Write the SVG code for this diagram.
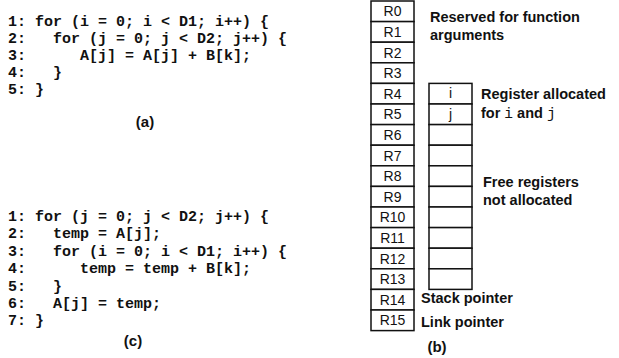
<svg xmlns="http://www.w3.org/2000/svg" width="619" height="358" viewBox="0 0 619 358">
<style>
.code{font-family:"Liberation Mono","Courier New",monospace;font-weight:bold;font-size:15px;fill:#111;white-space:pre}
.lbl{font-family:"Liberation Sans",Arial,sans-serif;font-weight:bold;font-size:14.5px;fill:#111}
.mono{font-family:"Liberation Mono","Courier New",monospace;font-weight:normal}
.reg{font-family:"Liberation Sans",Arial,sans-serif;font-size:14px;fill:#111;text-anchor:middle}
.box{fill:#fff;stroke:#111;stroke-width:1.5}
.cap{font-family:"Liberation Sans",Arial,sans-serif;font-weight:bold;font-size:15px;fill:#111;text-anchor:middle}
</style>
<rect width="619" height="358" fill="#fff"/>
<g id="code-a">
<text class="code" xml:space="preserve" x="8" y="26">1: for (i = 0; i &lt; D1; i++) {</text>
<text class="code" xml:space="preserve" x="8" y="43">2:   for (j = 0; j &lt; D2; j++) {</text>
<text class="code" xml:space="preserve" x="8" y="60">3:      A[j] = A[j] + B[k];</text>
<text class="code" xml:space="preserve" x="8" y="77">4:   }</text>
<text class="code" xml:space="preserve" x="8" y="94">5: }</text>
<text class="cap" x="145" y="127">(a)</text>
</g>
<g id="code-c">
<text class="code" xml:space="preserve" x="8" y="221">1: for (j = 0; j &lt; D2; j++) {</text>
<text class="code" xml:space="preserve" x="8" y="238">2:   temp = A[j];</text>
<text class="code" xml:space="preserve" x="8" y="256">3:   for (i = 0; i &lt; D1; i++) {</text>
<text class="code" xml:space="preserve" x="8" y="273">4:      temp = temp + B[k];</text>
<text class="code" xml:space="preserve" x="8" y="291">5:   }</text>
<text class="code" xml:space="preserve" x="8" y="308">6:   A[j] = temp;</text>
<text class="code" xml:space="preserve" x="8" y="325">7: }</text>
<text class="cap" x="133" y="346">(c)</text>
</g>
<g id="registers">
<rect class="box" x="371" y="1" width="43" height="20.6"/><text class="reg" x="392.5" y="16.3">R0</text>
<rect class="box" x="371" y="21.6" width="43" height="20.6"/><text class="reg" x="392.5" y="36.9">R1</text>
<rect class="box" x="371" y="42.2" width="43" height="20.6"/><text class="reg" x="392.5" y="57.5">R2</text>
<rect class="box" x="371" y="62.8" width="43" height="20.6"/><text class="reg" x="392.5" y="78.1">R3</text>
<rect class="box" x="371" y="83.4" width="43" height="20.6"/><text class="reg" x="392.5" y="98.7">R4</text>
<rect class="box" x="371" y="104" width="43" height="20.6"/><text class="reg" x="392.5" y="119.3">R5</text>
<rect class="box" x="371" y="124.6" width="43" height="20.6"/><text class="reg" x="392.5" y="139.9">R6</text>
<rect class="box" x="371" y="145.2" width="43" height="20.6"/><text class="reg" x="392.5" y="160.5">R7</text>
<rect class="box" x="371" y="165.8" width="43" height="20.6"/><text class="reg" x="392.5" y="181.1">R8</text>
<rect class="box" x="371" y="186.4" width="43" height="20.6"/><text class="reg" x="392.5" y="201.7">R9</text>
<rect class="box" x="371" y="207" width="43" height="20.6"/><text class="reg" x="392.5" y="222.3">R10</text>
<rect class="box" x="371" y="227.6" width="43" height="20.6"/><text class="reg" x="392.5" y="242.9">R11</text>
<rect class="box" x="371" y="248.2" width="43" height="20.6"/><text class="reg" x="392.5" y="263.5">R12</text>
<rect class="box" x="371" y="268.8" width="43" height="20.6"/><text class="reg" x="392.5" y="284.1">R13</text>
<rect class="box" x="371" y="289.4" width="43" height="20.6"/><text class="reg" x="392.5" y="304.7">R14</text>
<rect class="box" x="371" y="310" width="43" height="20.6"/><text class="reg" x="392.5" y="325.3">R15</text>
</g>
<g id="allocation">
<rect class="box" x="429" y="83.4" width="43" height="20.6"/><text class="reg" x="450.5" y="98">i</text>
<rect class="box" x="429" y="104" width="43" height="20.6"/><text class="reg" x="450.5" y="118.6">j</text>
<rect class="box" x="429" y="124.6" width="43" height="20.6"/>
<rect class="box" x="429" y="145.2" width="43" height="20.6"/>
<rect class="box" x="429" y="165.8" width="43" height="20.6"/>
<rect class="box" x="429" y="186.4" width="43" height="20.6"/>
<rect class="box" x="429" y="207" width="43" height="20.6"/>
<rect class="box" x="429" y="227.6" width="43" height="20.6"/>
<rect class="box" x="429" y="248.2" width="43" height="20.6"/>
<rect class="box" x="429" y="268.8" width="43" height="20.6"/>
</g>
<g id="labels">
<text class="lbl" x="430" y="22">Reserved for function</text>
<text class="lbl" x="430" y="40">arguments</text>
<text class="lbl" x="481" y="99">Register allocated</text>
<text class="lbl" x="481" y="118" xml:space="preserve">for <tspan class="mono">i</tspan> and <tspan class="mono">j</tspan></text>
<text class="lbl" x="483" y="187">Free registers</text>
<text class="lbl" x="483" y="205">not allocated</text>
<text class="lbl" x="421" y="303">Stack pointer</text>
<text class="lbl" x="421" y="327">Link pointer</text>
<text class="cap" x="437" y="352">(b)</text>
</g>
</svg>
